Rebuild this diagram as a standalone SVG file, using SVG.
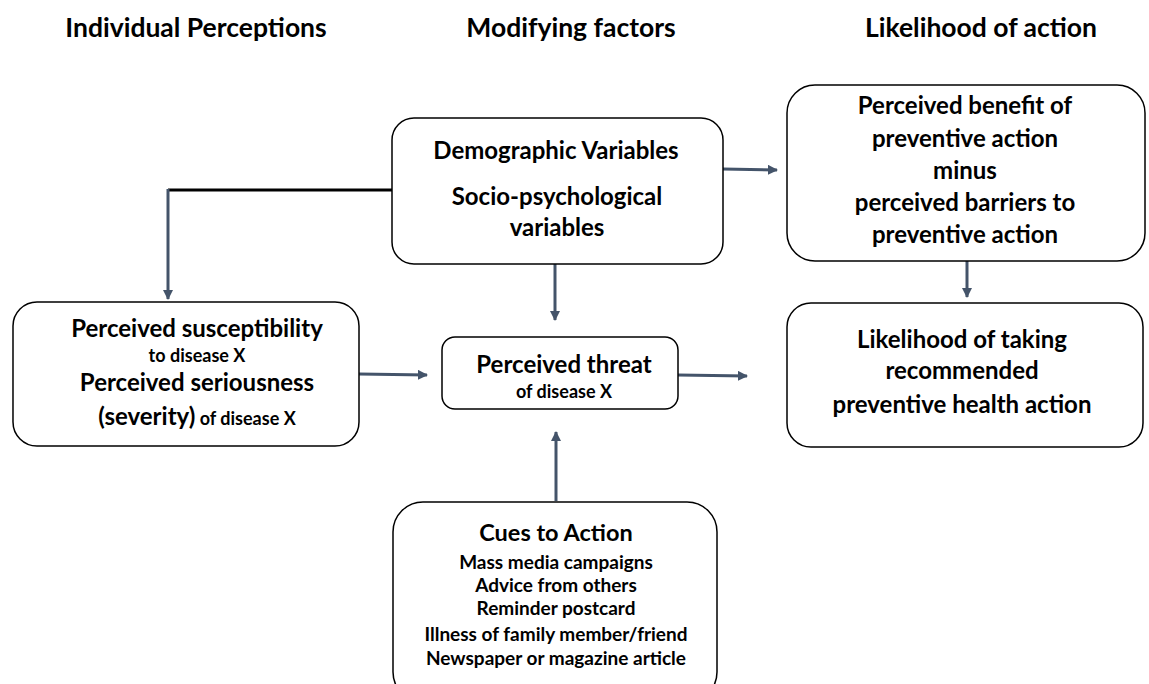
<svg xmlns="http://www.w3.org/2000/svg" width="1149" height="684" viewBox="0 0 1149 684">
<defs>
<style>
.box{fill:#fff;stroke:#000;stroke-width:1.5}
.t{font-family:Lato,"Open Sans","Liberation Sans",sans-serif;font-weight:700;fill:#000;text-anchor:middle}
.h{font-size:26.5px}
.b{font-size:24px}
.s{font-size:18px}
.q{font-size:19px}
.c{stroke:#44546A;stroke-width:3;fill:none}
</style>
<marker id="ah" viewBox="0 0 10 10" refX="9" refY="5" markerWidth="3.4" markerHeight="3.4" orient="auto" markerUnits="strokeWidth">
<path d="M0,0 L10,5 L0,10 z" fill="#44546A"/>
</marker>
</defs>
<rect width="1149" height="684" fill="#fff"/>
<g id="headers">
<text class="t h" x="196" y="37">Individual Perceptions</text>
<text class="t h" x="571" y="37">Modifying factors</text>
<text class="t h" x="981" y="37">Likelihood of action</text>
</g>
<g id="connectors">
<line x1="168" y1="190" x2="392" y2="190" stroke="#000" stroke-width="3"/>
<line class="c" x1="168" y1="189" x2="168" y2="299" marker-end="url(#ah)"/>
<line class="c" x1="555" y1="264" x2="555" y2="320" marker-end="url(#ah)"/>
<line class="c" x1="723" y1="169" x2="777" y2="170" marker-end="url(#ah)"/>
<line class="c" x1="967" y1="261" x2="967" y2="297" marker-end="url(#ah)"/>
<line class="c" x1="359" y1="374" x2="427" y2="375" marker-end="url(#ah)"/>
<line class="c" x1="678" y1="375" x2="747" y2="376" marker-end="url(#ah)"/>
<line class="c" x1="556" y1="501" x2="556" y2="432" marker-end="url(#ah)"/>
</g>
<g id="node-demographic">
<rect class="box" x="392" y="118" width="331" height="146" rx="22"/>
<text class="t b" x="556" y="159">Demographic Variables</text>
<text class="t b" x="557" y="205">Socio-psychological</text>
<text class="t b" x="557" y="236">variables</text>
</g>
<g id="node-susceptibility">
<rect class="box" x="13" y="302" width="346" height="144" rx="24"/>
<text class="t b" x="197" y="337">Perceived susceptibility</text>
<text class="t s" x="197" y="362">to disease X</text>
<text class="t b" x="197" y="391">Perceived seriousness</text>
<text class="t" x="197" y="425"><tspan font-size="24px">(severity)</tspan><tspan font-size="18px"> of disease X</tspan></text>
</g>
<g id="node-threat">
<rect class="box" x="442" y="337" width="236" height="72" rx="13"/>
<text class="t b" x="564" y="373">Perceived threat</text>
<text class="t s" x="564" y="398">of disease X</text>
</g>
<g id="node-cues">
<rect class="box" x="393" y="502" width="324" height="200" rx="30"/>
<text class="t" x="556" y="541" font-size="23.5px">Cues to Action</text>
<text class="t q" x="556" y="569">Mass media campaigns</text>
<text class="t q" x="556" y="592">Advice from others</text>
<text class="t q" x="556" y="615">Reminder postcard</text>
<text class="t q" x="556" y="641">Illness of family member/friend</text>
<text class="t q" x="556" y="665">Newspaper or magazine article</text>
</g>
<g id="node-benefit">
<rect class="box" x="787" y="85" width="358" height="176" rx="28"/>
<text class="t b" x="965" y="114">Perceived benefit of</text>
<text class="t b" x="965" y="147">preventive action</text>
<text class="t b" x="965" y="179">minus</text>
<text class="t b" x="965" y="211">perceived barriers to</text>
<text class="t b" x="965" y="243">preventive action</text>
</g>
<g id="node-likelihood">
<rect class="box" x="787" y="303" width="356" height="144" rx="24"/>
<text class="t b" x="962" y="348">Likelihood of taking</text>
<text class="t b" x="962" y="379">recommended</text>
<text class="t b" x="962" y="413">preventive health action</text>
</g>
</svg>
